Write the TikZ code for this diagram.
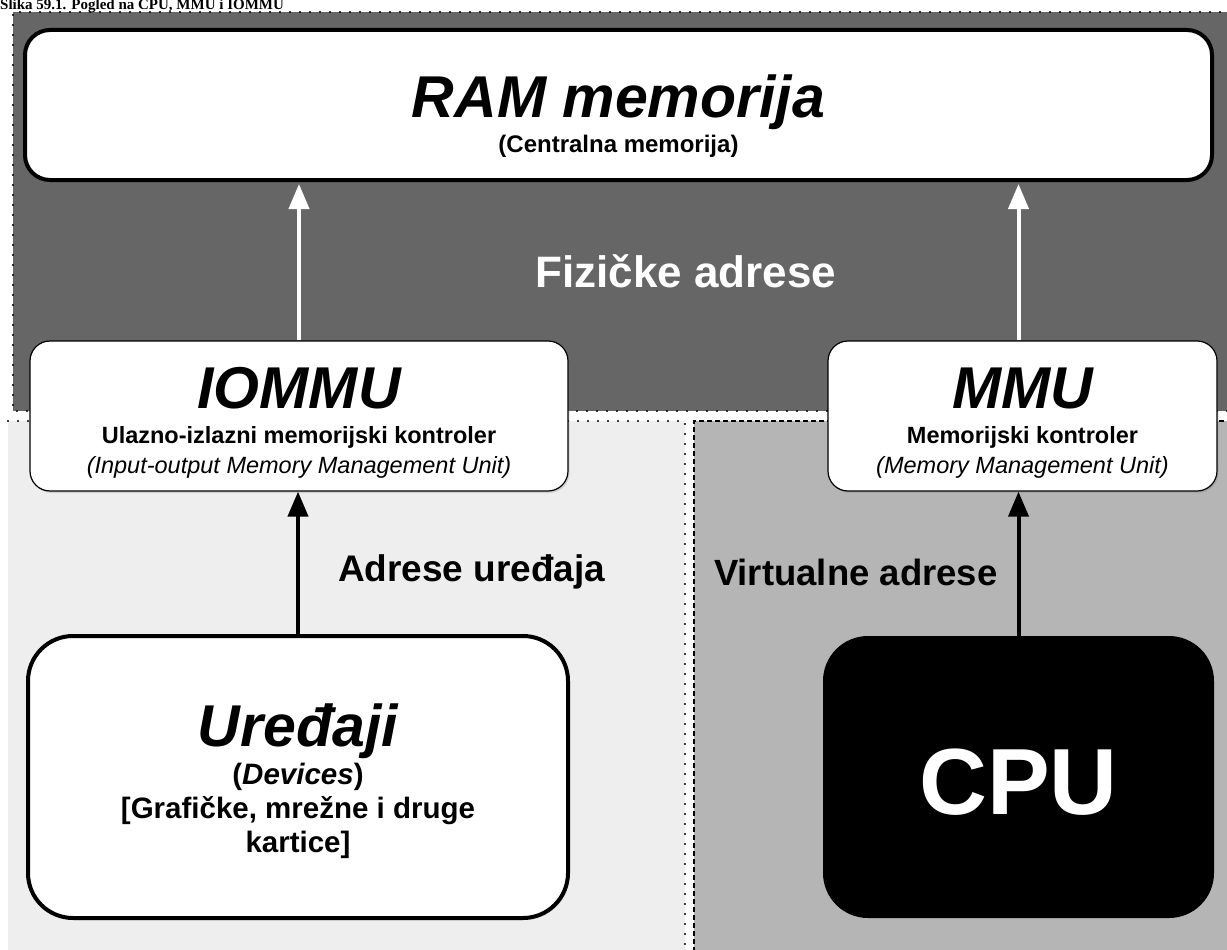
\documentclass[tikz,border=0pt]{standalone}
\usepackage{fontspec}
\setmainfont{Liberation Sans}
\newfontfamily\captionserif{Liberation Serif}
\usetikzlibrary{arrows.meta,positioning,shadows}
\definecolor{ZoneDark}{HTML}{666666}
\definecolor{ZoneLight}{HTML}{EEEEEE}
\definecolor{ZoneMid}{HTML}{B5B5B5}
\newcommand{\bigtitle}[2]{\rule{0pt}{#1}{\fontsize{59}{62}\selectfont\bfseries\itshape #2}}
\newcommand{\subline}[1]{{\bfseries #1}}

\begin{document}
\begin{tikzpicture}[
    x=1pt, y=-1pt,
    dotline/.style={line width=2.4pt, line cap=round, dash pattern=on 0pt off 10pt},
    dashline/.style={line width=1.6pt, dash pattern=on 5pt off 3pt},
    heavybox/.style={rectangle, rounded corners=25pt, draw=black, fill=white, line width=4pt, align=center, inner sep=0pt, drop shadow={opacity=0.25, shadow xshift=1.5pt, shadow yshift=-2pt}},
    unitbox/.style={rectangle, rounded corners=20pt, draw=black, fill=white, line width=1.2pt, align=center, inner sep=0pt, font=\fontsize{23.5}{30}\selectfont, drop shadow={opacity=0.25, shadow xshift=1.5pt, shadow yshift=-2pt}},
    cpubox/.style={rectangle, rounded corners=45pt, fill=black, text=white, font=\fontsize{94}{98}\selectfont\bfseries},
    whitearrow/.style={-{Triangle[width=20pt, length=25pt]}, line width=4pt, color=white},
    blackarrow/.style={-{Triangle[width=20pt, length=25pt]}, line width=4pt, color=black},
    flowlabel/.style={font=\fontsize{37}{40}\selectfont\bfseries, inner sep=0pt, yshift=-9pt},
    zonelabel/.style={font=\fontsize{44}{48}\selectfont\bfseries, text=white, inner sep=0pt}
  ]
    \useasboundingbox (0,0) rectangle (1227,950);

    % background zones
    \fill[ZoneDark] (13,12) rectangle (1240,411);
    \draw[dotline] (1240,12) -- (13,12) -- (13,411) -- (1240,411);
    \fill[ZoneLight] (8,421) rectangle (685,960);
    \draw[dotline] (8,421) -- (685,421) -- (685,960);
    \fill[ZoneMid] (694,421) rectangle (1240,960);
    \draw[dashline] (1240,421) -- (694,421) -- (694,960);

    \node[anchor=base west, inner sep=0pt, font=\captionserif\bfseries\fontsize{15}{16}\selectfont] (caption) at (0,10) {Slika 59.1. Pogled na CPU, MMU i IOMMU};

    \node[heavybox, minimum width=1187pt, minimum height=150pt, font=\fontsize{24}{30}\selectfont] (ram) at (618.5,105) {\bigtitle{64pt}{RAM memorija}\\[5pt]\subline{(Centralna memorija)}};

    \node[unitbox, minimum width=538pt, minimum height=150pt] (iommu) at (299,416) {\bigtitle{55pt}{IOMMU}\\[5pt]\subline{Ulazno-izlazni memorijski kontroler}\\\textit{(Input-output Memory Management Unit)}};
    \node[unitbox, minimum width=389pt, minimum height=150pt] (mmu) at (1022.5,416) {\bigtitle{55pt}{MMU}\\[5pt]\subline{Memorijski kontroler}\\\textit{(Memory Management Unit)}};

    \node[heavybox, rounded corners=45pt, minimum width=540pt, minimum height=282pt, font=\fontsize{29.5}{34}\selectfont] (dev) at (298,777) {\bigtitle{51pt}{Uređaji}\\[4pt]\subline{(\textit{Devices})}\\\subline{[Grafičke, mrežne i druge}\\\subline{kartice]}};
    \node[cpubox, minimum width=391pt, minimum height=282pt] (cpu) at (1018.5,777) {\rule{0pt}{76pt}CPU};

    \node[zonelabel] (phys) at (686,271) {Fizičke adrese};

    \draw[whitearrow, shorten >=2pt] (iommu.north) -- (iommu.north |- ram.south);
    \draw[whitearrow, shorten >=2pt] (mmu.north -| cpu.north) -- (cpu.north |- ram.south);
    \draw[blackarrow] (dev.north) -- node[flowlabel, right=38pt] {Adrese uređaja} (dev.north |- iommu.south);
    \draw[blackarrow] (cpu.north) -- node[flowlabel, left=19pt, font=\fontsize{36.5}{40}\selectfont\bfseries] {Virtualne adrese} (cpu.north |- mmu.south);
  \end{tikzpicture}
\end{document}
